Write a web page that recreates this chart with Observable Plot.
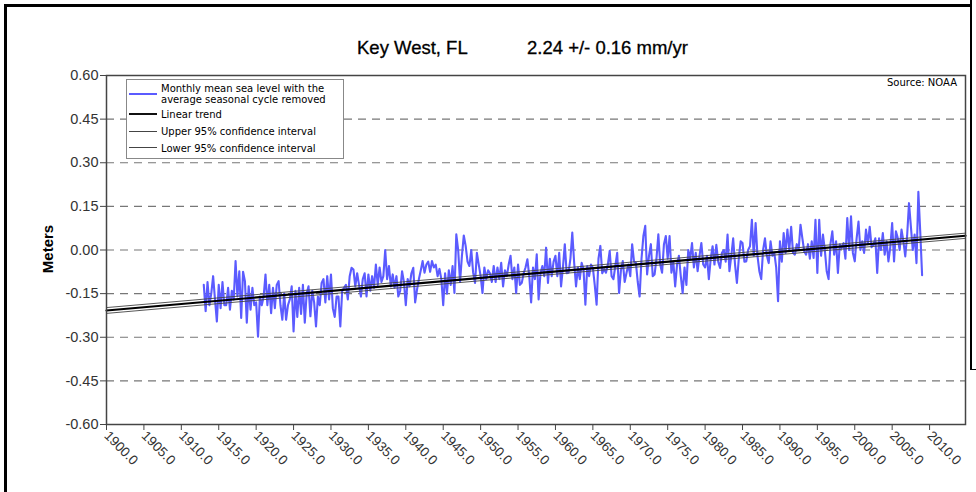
<!DOCTYPE html>
<html>
<head>
<meta charset="utf-8">
<script src="https://cdn.jsdelivr.net/npm/d3@7"></script>
<script src="https://cdn.jsdelivr.net/npm/@observablehq/plot@0.6"></script>
<style>
  html, body { margin: 0; padding: 0; background: #fff; }
  #wrap { position: relative; width: 976px; height: 492px; overflow: hidden; font-family: "Liberation Sans", Arial, sans-serif; }
  #chart { position: absolute; left: 0; top: 0; }
  .abs { position: absolute; white-space: nowrap; }
  #chart svg text { fill: #333; }
  .leg { font-family: "DejaVu Sans", Verdana, sans-serif; font-size: 10px; }
</style>
</head>
<body>
<div id="wrap">
  <div id="chart"></div>
  <div class="abs" style="left:4px;top:4px;width:965px;height:500px;border-left:3px solid #000;border-top:3px solid #000;"></div>
  <div class="abs" style="left:970px;top:0;width:2px;height:370px;background:#000;"></div>
  <div class="abs" style="left:970px;top:369px;width:6px;height:1px;background:#000;"></div>
  <div class="abs" style="left:357px;top:37px;font-size:18.5px;color:#000;-webkit-text-stroke:0.3px #000;">Key West, FL</div>
  <div class="abs" style="left:527px;top:37px;font-size:18.5px;color:#000;-webkit-text-stroke:0.3px #000;">2.24 +/- 0.16 mm/yr</div>
  <div class="abs" style="left:8px;top:240px;width:80px;height:18px;line-height:18px;text-align:center;font-size:15px;font-weight:bold;color:#000;transform:rotate(-90deg);transform-origin:40px 9px;">Meters</div>
  <div class="abs leg" style="right:19px;top:77px;color:#000;">Source: NOAA</div>
  <div class="abs leg" id="legend" style="left:126px;top:79px;width:216px;height:78px;border:1px solid #888;background:#fff;color:#000;">
    <div class="abs" style="left:2px;top:13px;width:28px;height:2px;background:#5b5bff;"></div>
    <div class="abs" style="left:34px;top:3px;line-height:11px;">Monthly mean sea level with the<br>average seasonal cycle removed</div>
    <div class="abs" style="left:2px;top:33px;width:28px;height:2px;background:#111;"></div>
    <div class="abs" style="left:34px;top:29px;">Linear trend</div>
    <div class="abs" style="left:2px;top:51px;width:28px;height:1px;background:#444;"></div>
    <div class="abs" style="left:34px;top:46px;">Upper 95% confidence interval</div>
    <div class="abs" style="left:2px;top:67px;width:28px;height:1px;background:#444;"></div>
    <div class="abs" style="left:34px;top:63px;">Lower 95% confidence interval</div>
  </div>
</div>
<script>
// Monthly mean sea level (seasonal cycle removed), sampled quarterly, metres
const startYear = 1913;
const stepYears = 0.25;
const msl = [
  -0.12,-0.21,-0.11,-0.19,   // 1913
  -0.15,-0.09,-0.17,-0.246,  // 1914
  -0.12,-0.20,-0.11,-0.19,   // 1915
  -0.19,-0.13,-0.205,-0.14,  // 1916
  -0.17,-0.038,-0.16,-0.073, // 1917
  -0.234,-0.075,-0.107,-0.25,// 1918
  -0.125,-0.205,-0.13,-0.19, // 1919
  -0.18,-0.298,-0.16,-0.19,  // 1920
  -0.16,-0.084,-0.19,-0.12,  // 1921
  -0.217,-0.13,-0.20,-0.12,  // 1922
  -0.107,-0.19,-0.24,-0.15,  // 1923
  -0.24,-0.19,-0.17,-0.125,  // 1924
  -0.28,-0.14,-0.23,-0.13,   // 1925
  -0.22,-0.12,-0.25,-0.15,   // 1926
  -0.125,-0.228,-0.14,-0.18, // 1927
  -0.263,-0.16,-0.19,-0.113, // 1928
  -0.10,-0.18,-0.09,-0.17,   // 1929
  -0.084,-0.20,-0.23,-0.16,  // 1930
  -0.16,-0.263,-0.14,-0.13,  // 1931
  -0.12,-0.17,-0.09,-0.061,  // 1932
  -0.067,-0.125,-0.08,-0.12, // 1933
  -0.16,-0.10,-0.08,-0.16,   // 1934
  -0.084,-0.14,-0.09,-0.13,  // 1935
  -0.05,-0.12,-0.06,-0.11,   // 1936
  -0.09,0.0,-0.10,-0.055,    // 1937
  -0.125,-0.084,-0.13,-0.09, // 1938
  -0.16,-0.14,-0.073,-0.11,  // 1939
  -0.19,-0.10,-0.125,-0.08,  // 1940
  -0.061,-0.18,-0.136,-0.10, // 1941
  -0.07,-0.038,-0.078,-0.05, // 1942
  -0.04,-0.075,-0.038,-0.06, // 1943
  -0.05,-0.09,-0.065,-0.10,  // 1944
  -0.19,-0.08,-0.15,-0.07,   // 1945
  -0.12,-0.055,-0.148,0.054, // 1946
  0.0,-0.11,-0.02,0.05,      // 1947
  0.014,-0.04,-0.055,0.0,    // 1948
  -0.078,-0.113,-0.01,-0.05, // 1949
  -0.09,-0.148,-0.06,-0.10,  // 1950
  -0.07,-0.08,-0.11,-0.055,  // 1951
  -0.11,-0.06,-0.10,-0.044,  // 1952
  -0.125,-0.07,-0.09,-0.05,  // 1953
  -0.02,-0.10,-0.06,-0.148,  // 1954
  -0.05,-0.12,-0.113,-0.08,  // 1955
  -0.06,-0.032,-0.09,-0.18,  // 1956
  -0.06,-0.10,-0.015,-0.17,  // 1957
  -0.08,-0.055,-0.09,0.008,  // 1958
  -0.113,-0.03,-0.09,-0.04,  // 1959
  -0.02,-0.09,-0.01,-0.125,  // 1960
  -0.06,0.02,-0.08,-0.078,   // 1961
  -0.03,0.06,-0.044,-0.125,  // 1962
  -0.06,-0.10,-0.044,-0.066, // 1963
  -0.188,-0.055,-0.09,-0.05, // 1964
  -0.061,-0.12,-0.188,-0.03, // 1965
  0.014,-0.08,-0.066,-0.078, // 1966
  -0.05,-0.003,-0.09,-0.10,  // 1967
  -0.055,-0.01,-0.148,-0.07, // 1968
  -0.038,-0.11,-0.078,-0.05, // 1969
  -0.09,0.02,-0.04,-0.044,   // 1970
  -0.11,-0.16,-0.03,0.048,   // 1971
  0.083,-0.084,-0.02,0.02,   // 1972
  -0.09,-0.084,-0.03,0.054,  // 1973
  -0.05,-0.078,0.02,0.048,   // 1974
  -0.03,0.048,-0.078,-0.04,  // 1975
  -0.125,-0.05,-0.02,-0.09,  // 1976
  -0.148,-0.06,-0.12,0.0,    // 1977
  -0.03,0.024,-0.06,-0.01,   // 1978
  -0.073,-0.02,0.024,-0.05,  // 1979
  -0.06,-0.02,-0.10,-0.03,   // 1980
  0.013,-0.05,0.018,-0.04,   // 1981
  -0.062,-0.01,0.0,-0.04,    // 1982
  0.053,-0.073,-0.02,0.04,   // 1983
  -0.05,-0.113,-0.03,0.03,   // 1984
  0.024,-0.04,-0.039,0.0,    // 1985
  0.013,0.104,-0.02,0.093,   // 1986
  -0.02,-0.073,-0.10,0.0,    // 1987
  0.04,-0.02,-0.045,0.03,    // 1988
  -0.02,-0.01,-0.06,-0.176,  // 1989
  0.03,-0.04,0.058,-0.01,    // 1990
  0.07,0.0,0.08,-0.01,       // 1991
  -0.016,0.02,0.001,0.087,   // 1992
  0.04,-0.005,-0.016,0.02,   // 1993
  -0.03,0.03,-0.027,0.104,   // 1994
  -0.079,0.104,-0.02,0.053,  // 1995
  0.0,-0.073,-0.10,0.02,     // 1996
  0.064,-0.016,0.03,-0.079,  // 1997
  0.02,0.007,0.024,-0.03,    // 1998
  0.11,0.0,0.116,-0.01,      // 1999
  -0.039,0.04,0.098,0.0,     // 2000
  0.03,-0.01,0.07,0.02,      // 2001
  0.08,0.01,0.018,0.04,      // 2002
  -0.079,0.04,0.0,0.058,     // 2003
  -0.016,0.03,-0.039,0.01,   // 2004
  0.093,-0.039,0.064,0.041,  // 2005
  0.0,0.07,0.03,-0.022,      // 2006
  0.05,0.161,0.081,0.0,      // 2007
  0.053,-0.045,0.20,0.064,   // 2008
  -0.087                     // 2009
];

// Linear trend and 95% confidence lines (end points, metres)
const trendYears = [1900, 2014.8];
const trendValues = [-0.208, 0.049];
const upperValues = [-0.198, 0.058];
const lowerValues = [-0.218, 0.040];

const yTicks = [-0.60, -0.45, -0.30, -0.15, 0.00, 0.15, 0.30, 0.45, 0.60];
const gridValues = [-0.45, -0.30, -0.15, 0.00, 0.15, 0.30, 0.45];
const xTicks = [1900,1905,1910,1915,1920,1925,1930,1935,1940,1945,1950,1955,1960,1965,1970,1975,1980,1985,1990,1995,2000,2005,2010];

const series = msl.map((v, i) => ({t: startYear + i * stepYears, v}));
const trendLine = (vals) => trendYears.map((t, i) => ({t, v: vals[i]}));

const chart = Plot.plot({
  width: 976,
  height: 492,
  marginLeft: 106,
  marginRight: 11,
  marginTop: 75,
  marginBottom: 68,
  style: {fontFamily: "'Liberation Sans', Arial, sans-serif", background: "transparent"},
  x: {domain: [1900, 2014.8]},
  y: {domain: [-0.6, 0.6]},
  marks: [
    Plot.ruleY(gridValues, {stroke: "#777", strokeWidth: 1.2, strokeDasharray: "8,6"}),
    Plot.line(series, {x: "t", y: "v", stroke: "#5b5bff", strokeWidth: 2.1}),
    Plot.line(trendLine(upperValues), {x: "t", y: "v", stroke: "#444", strokeWidth: 0.9}),
    Plot.line(trendLine(lowerValues), {x: "t", y: "v", stroke: "#444", strokeWidth: 0.9}),
    Plot.line(trendLine(trendValues), {x: "t", y: "v", stroke: "#000", strokeWidth: 2.2}),
    Plot.frame({stroke: "#444", strokeWidth: 1.5}),
    Plot.axisY({ticks: yTicks, tickFormat: d => d.toFixed(2), tickSize: 6, tickPadding: 2, label: null, fontSize: 14.5, stroke: "#444"}),
    Plot.axisX({ticks: xTicks, tickFormat: d => d.toFixed(1), tickSize: 6, tickRotate: 45, textAnchor: "start", tickPadding: 3, label: null, fontSize: 13.5, stroke: "#444"})
  ]
});
document.getElementById("chart").appendChild(chart);
</script>
</body>
</html>
